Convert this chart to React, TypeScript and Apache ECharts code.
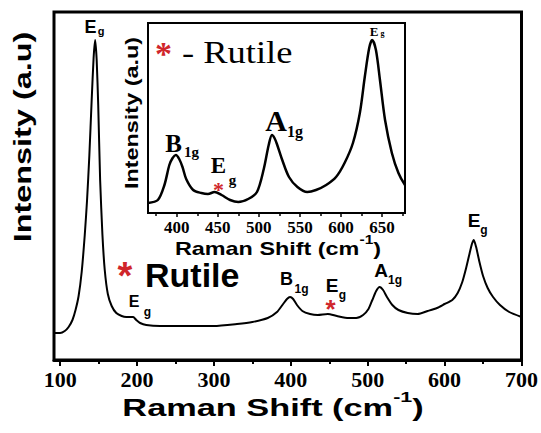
import React, { useEffect, useRef } from 'react';
import * as echarts from 'echarts';

// Main spectrum (Raman shift in cm-1, intensity in arbitrary units)
const mainShift = [92, 100, 106, 111, 116, 120, 124, 128, 132, 135, 138, 141, 143.5, 145.5, 147.5, 149.5, 152, 155, 158, 162, 167, 173, 180, 186, 191, 195, 199, 204, 212, 230, 260, 300, 330, 350, 370, 382, 390, 395, 399, 403, 408, 415, 425, 435, 448, 460, 475, 485, 494, 501, 506, 511, 515.5, 520, 525, 532, 540, 552, 565, 578, 590, 600, 610, 617, 623, 628, 632, 635.5, 638, 641, 645, 650, 656, 663, 672, 684, 700];
const mainIntensity = [27, 27, 29, 33, 40, 50, 64, 88, 125, 160, 205, 260, 302, 320, 300, 255, 180, 125, 90, 66, 54, 47, 44, 43, 43, 43, 40, 37, 35, 34, 34, 34, 36, 38, 42, 48, 56, 61, 63, 61, 55, 49, 46, 45, 46, 44, 42, 42, 45, 51, 60, 69, 73, 70, 63, 55, 50, 47, 46, 49, 52, 56, 60, 67, 78, 92, 105, 116, 120, 113, 99, 84, 72, 63, 55, 48, 43];

// Inset spectrum
const insetShift = [365, 377, 385, 391, 395, 399, 403, 407, 411.5, 420, 430, 438, 446, 454.6, 465, 475, 487, 497.7, 506, 512, 516, 519, 522, 528.5, 536.7, 547, 559, 569.6, 582, 594, 604.4, 614.6, 623, 629, 634.4, 638, 642.6, 647.5, 653.7, 662, 670, 678];
const insetIntensity = [10, 13, 28, 48, 55, 58, 54, 46, 34, 23, 20, 19, 21, 18, 13, 11, 14, 21, 44, 68, 78, 75, 69, 53, 36, 26, 21, 23, 28, 36, 50, 70, 100, 136, 165, 173, 163, 133, 93, 60, 40, 28];

// Tick labels
const mainTickLabels = [100, 200, 300, 400, 500, 600, 700];
const mainMinorTicks = [150, 250, 350, 450, 550, 650];
const insetTickLabels = [400, 450, 500, 550, 600, 650];
const insetMinorTicks = [375, 425, 475, 525, 575, 625, 675];

const SANS = 'Liberation Sans, Arial, sans-serif';
const SERIF = 'Liberation Serif, Times New Roman, serif';
const RED = '#d0262b';

function txt(x: number, y: number, text: string, size: number, opts: any = {}) {
  const style: any = {
    text,
    fontSize: size,
    fontWeight: opts.weight || 'bold',
    fontFamily: opts.family || SANS,
    fill: opts.color || '#000',
    textAlign: opts.align || 'center',
    align: opts.align || 'center',
    textVerticalAlign: 'middle',
    verticalAlign: 'middle',
  };
  if (opts.lineHeight) style.lineHeight = opts.lineHeight;
  if (opts.rich) style.rich = opts.rich;
  return {
    type: 'text',
    x,
    y,
    rotation: opts.rotation || 0,
    scaleX: opts.scaleX || 1,
    z: 100,
    style,
  };
}

export default function App() {
  const ref = useRef<HTMLDivElement>(null);
  useEffect(() => {
    const chart = echarts.init(ref.current!, null, { renderer: 'svg' });
    const mainData = mainShift.map((x, i) => [x, mainIntensity[i]]);
    const insetData = insetShift.map((x, i) => [x, insetIntensity[i]]);

    const titleRich = (size: number, sup: number) => ({
      a: { fontSize: size, fontWeight: 'bold', fontFamily: SANS, lineHeight: size + 6, verticalAlign: 'bottom', fill: '#000', color: '#000' },
      s: { fontSize: sup, fontWeight: 'bold', fontFamily: SANS, lineHeight: sup - 2, verticalAlign: 'top', fill: '#000', color: '#000' },
    });

    const graphics: any[] = [
      // main axis titles
      txt(23, 137, 'Intensity (a.u)', 24, { rotation: Math.PI / 2, scaleX: 1.35 }),
      txt(273, 404, '{a|Raman Shift (cm}{s|-1}{a|)}', 24, { scaleX: 1.43, rich: titleRich(24, 15) }),
      // inset axis titles
      txt(132, 113, 'Intensity (a.u)', 18, { rotation: Math.PI / 2, scaleX: 1.3 }),
      txt(278, 246, '{a|Raman Shift (cm}{s|-1}{a|)}', 18, { scaleX: 1.3, rich: titleRich(18, 12) }),

      // main annotations
      txt(90.5, 26.5, 'E', 18),
      txt(101, 31, 'g', 11),
      txt(134, 301, 'E', 16, { lineHeight: 14 }),
      txt(147.5, 312, 'g', 12, { lineHeight: 10 }),
      txt(145, 274.5, 'Rutile', 34, { align: 'left', lineHeight: 30 }),
      txt(125, 276, '*', 38, { color: RED, lineHeight: 16 }),
      txt(286.5, 278.5, 'B', 18),
      txt(301.5, 289, '1g', 12),
      txt(332, 285, 'E', 19, { lineHeight: 16 }),
      txt(342.5, 295, 'g', 12, { lineHeight: 10 }),
      txt(330.5, 309, '*', 26, { color: RED, lineHeight: 10 }),
      txt(381, 270, 'A', 19),
      txt(395, 280, '1g', 12),
      txt(474, 220.5, 'E', 19),
      txt(484, 230, 'g', 12),

      // inset annotations
      txt(163.5, 53, '*', 34, { color: RED, family: SERIF, weight: 'bold', lineHeight: 16 }),
      txt(182, 52, '- Rutile', 32, { align: 'left', family: SERIF, weight: 'normal', scaleX: 1.14 }),
      txt(173.5, 143.5, 'B', 25, { family: SERIF }),
      txt(191.5, 152, '1g', 15, { family: SERIF }),
      txt(218.5, 165.5, 'E', 23, { family: SERIF, lineHeight: 18 }),
      txt(232.5, 180, 'g', 15, { family: SERIF, lineHeight: 12 }),
      txt(218.5, 189, '*', 22, { color: RED, family: SERIF, lineHeight: 10 }),
      txt(276, 120, 'A', 30, { family: SERIF }),
      txt(295, 131, '1g', 16, { family: SERIF }),
      txt(374, 31, 'E', 13, { family: SERIF }),
      txt(382.5, 33, 'g', 8, { family: SERIF }),
    ];

    const option: any = {
      animation: false,
      backgroundColor: '#fff',
      grid: [
        { left: 54, right: 19, top: 12, bottom: 73, show: true, borderColor: '#000', borderWidth: 3, backgroundColor: 'transparent' },
        { left: 148, right: 136, top: 23, bottom: 220, show: true, borderColor: '#000', borderWidth: 2, backgroundColor: '#fff' },
      ],
      xAxis: [
        {
          gridIndex: 0, type: 'value', min: 92, max: 700, position: 'bottom',
          axisLine: { show: true, onZero: false, lineStyle: { color: '#000', width: 3 } },
          axisTick: { show: true, inside: false, length: 6, customValues: mainTickLabels, lineStyle: { color: '#000', width: 2 } },
          axisLabel: { show: true, customValues: mainTickLabels, fontFamily: SERIF, fontWeight: 'bold', fontSize: 22, color: '#000', margin: 8 },
          splitLine: { show: false },
        },
        {
          gridIndex: 0, type: 'value', min: 92, max: 700, position: 'bottom',
          axisLine: { show: false, onZero: false },
          axisTick: { show: true, inside: false, length: 4, customValues: mainMinorTicks, lineStyle: { color: '#000', width: 2 } },
          axisLabel: { show: false },
          splitLine: { show: false },
        },
        {
          gridIndex: 1, type: 'value', min: 365, max: 678, position: 'bottom',
          axisLine: { show: true, onZero: false, lineStyle: { color: '#000', width: 2 } },
          axisTick: { show: true, inside: false, length: 4, customValues: insetTickLabels, lineStyle: { color: '#000', width: 1.5 } },
          axisLabel: { show: true, customValues: insetTickLabels, fontFamily: SERIF, fontWeight: 'bold', fontSize: 17, color: '#000', margin: 6 },
          splitLine: { show: false },
        },
        {
          gridIndex: 1, type: 'value', min: 365, max: 678, position: 'bottom',
          axisLine: { show: false, onZero: false },
          axisTick: { show: true, inside: false, length: 3, customValues: insetMinorTicks, lineStyle: { color: '#000', width: 1.5 } },
          axisLabel: { show: false },
          splitLine: { show: false },
        },
      ],
      yAxis: [
        { gridIndex: 0, type: 'value', min: 0, max: 348, show: false },
        { gridIndex: 1, type: 'value', min: 0, max: 190, show: false },
      ],
      series: [
        {
          type: 'line', xAxisIndex: 0, yAxisIndex: 0, data: mainData,
          symbol: 'none', showSymbol: false, smooth: 0.2,
          lineStyle: { color: '#000', width: 2 },
        },
        {
          type: 'line', xAxisIndex: 2, yAxisIndex: 1, data: insetData,
          symbol: 'none', showSymbol: false, smooth: 0.3, z: 10,
          lineStyle: { color: '#000', width: 2.5 },
        },
      ],
      graphic: graphics,
    };
    chart.setOption(option);
    return () => chart.dispose();
  }, []);
  return <div ref={ref} style={{ position: 'absolute', left: 0, top: 0, width: 541, height: 433 }} />;
}
